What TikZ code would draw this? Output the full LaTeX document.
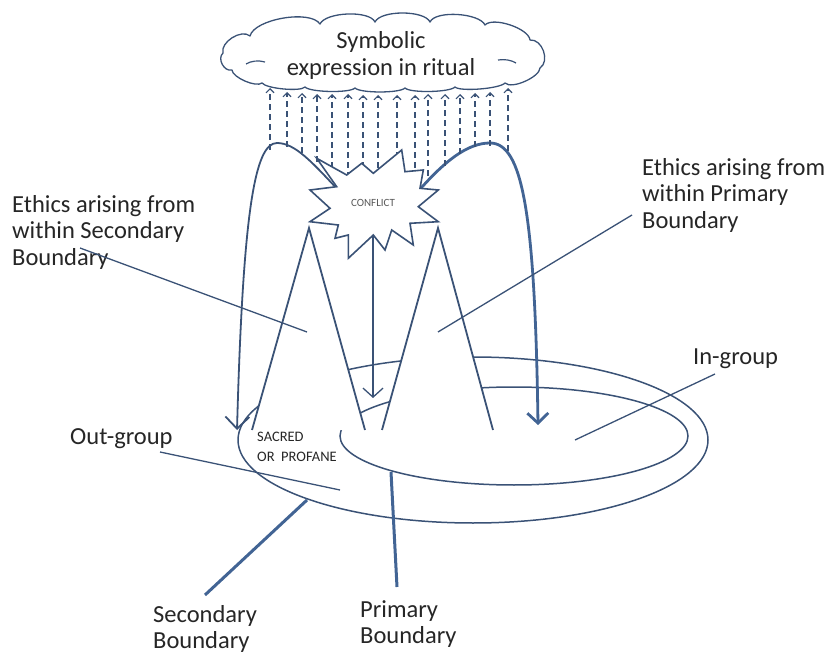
\documentclass[tikz,border=0pt]{standalone}
\usepackage{fontspec}
\setmainfont{Carlito}
\usetikzlibrary{arrows.meta}
\definecolor{ln}{RGB}{58,82,118}
\definecolor{lnb}{RGB}{66,100,148}
\definecolor{txt}{RGB}{38,38,38}
\begin{document}
\begin{tikzpicture}[x=1pt,y=-1pt,
  lbl/.style={font=\fontsize{24.5}{26.5}\selectfont, text=txt, inner sep=0pt, align=left, anchor=north west},
  thinln/.style={draw=ln, line width=1.3pt},
  thickln/.style={draw=lnb, line width=3pt},
  ell/.style={draw=ln, line width=1.5pt},
  leg/.style={draw=ln, line width=1.8pt, line join=miter},
  dsh/.style={draw=ln, line width=1.1pt, dash pattern=on 6pt off 4pt, -{Straight Barb[length=4pt,width=8pt]}},
  bigtip/.style={-{Straight Barb[length=12pt,width=24pt]}}
]
\useasboundingbox (0,0) rectangle (828,655);

% ellipses
\draw[ell] (473,440) ellipse [x radius=235pt, y radius=83pt];
\draw[ell] (514,436) ellipse [x radius=174pt, y radius=49pt];

% two Lambda shapes
\coordinate (a1) at (252,430); \coordinate (a2) at (309,228); \coordinate (a3) at (365,430);
\coordinate (b1) at (382,430); \coordinate (b2) at (438,228); \coordinate (b3) at (493,430);
\fill[white] (a1) -- (a2) -- (a3) -- cycle;
\fill[white] (b1) -- (b2) -- (b3) -- cycle;
\draw[leg] (a1) -- (a2) -- (a3);
\draw[leg] (b1) -- (b2) -- (b3);

% middle arrow from conflict
\coordinate (cf) at (373,215);
\coordinate (mid) at (373,398);
\draw[thinln, -{Straight Barb[length=9pt,width=20pt]}] (cf) -- (mid);

% big curved arrows
\coordinate (lc0) at (340,192); \coordinate (lc1) at (277,143); \coordinate (lc2) at (237,430);
\draw[leg, bigtip] (lc0) .. controls (312,162) and (295,143) .. (lc1) .. controls (255,143) and (243,210) .. (lc2);
\coordinate (rc0) at (415,195); \coordinate (rc1) at (490,143); \coordinate (rc2) at (538,425);
\draw[draw=lnb, line width=2.8pt, -{Straight Barb[length=10pt,width=21pt]}] (rc0) .. controls (445,160) and (468,143) .. (rc1) .. controls (522,143) and (535,210) .. (rc2);

% dashed arrows to the cloud
\foreach \xx/\yy/\tt in {270/150/88,287/147/92,302/153/93,317/162/94,332/178/94,348/178/94,363/178/95,378/178/95,397/178/95,415/178/95,428/176/94,445/166/94,460/154/94,475/147/93,490/146/92,508/151/88}{
  \draw[dsh] (\xx,\yy) -- (\xx,\tt);
}

% conflict star
\filldraw[fill=white, draw=ln, line width=1.6pt, line join=miter]
 (316.7,158.3) -- (346.7,175) -- (361.7,163.3) -- (373.3,173.3) -- (401.7,150) -- (405,171.7)
 -- (423.3,170) -- (420,188.3) -- (438.3,190) -- (418.3,206.7) -- (438.3,221.7) -- (410,223.3)
 -- (413.3,245) -- (391.7,230) -- (385,250) -- (373.3,235) -- (348.3,258.3) -- (348.3,235)
 -- (335,238.3) -- (338.3,225) -- (310,221.7) -- (330,208.3) -- (310,190) -- (336.7,186.7) -- cycle;
\node[font=\fontsize{11}{12}\selectfont, text=black!65, inner sep=0pt] (conflict) at (373,203) {CONFLICT};

% cloud
\filldraw[fill=white, draw=ln, line width=1.3pt, line join=round]
  (223,53) .. controls (220,42.2) and (241.6,28.6) .. (250,36)
  .. controls (254.3,19) and (310.3,9.4) .. (320,24)
  .. controls (325.5,12) and (369.5,10) .. (375,22)
  .. controls (380.5,10) and (424.5,10) .. (430,22)
  .. controls (435.5,10) and (479.5,13) .. (485,25)
  .. controls (492.9,16.4) and (528.9,28.4) .. (530,40)
  .. controls (542.3,38.8) and (550.3,61.2) .. (540,68)
  .. controls (539.8,76.9) and (511.8,89.7) .. (505,83)
  .. controls (500,88.7) and (460,91.9) .. (455,87)
  .. controls (450,92.4) and (410,93.2) .. (405,88)
  .. controls (400,93.3) and (360,93.3) .. (355,88)
  .. controls (350,93.2) and (310,92.4) .. (305,87)
  .. controls (300.7,91.9) and (266.3,88.7) .. (262,83)
  .. controls (256.3,87.8) and (232.3,77.4) .. (232,70)
  .. controls (224.1,72.1) and (216.9,58.5) .. (223,53) -- cycle;
\draw[draw=ln, line width=1.2pt] (246,64) .. controls (251,61) and (258,60) .. (265,62);
\draw[draw=ln, line width=1.2pt] (498,60) .. controls (505,59) and (511,60) .. (516,63);
\node[font=\fontsize{24.5}{27}\selectfont, text=txt, align=center, inner sep=0pt, anchor=north] (cloud) at (381,31) {Symbolic\\expression in ritual};

% labels
\node[lbl] (ethS) at (12,195) {Ethics arising from\\within Secondary\\Boundary};
\node[lbl] (ethP) at (642,158) {Ethics arising from\\within Primary\\Boundary};
\node[lbl] (ing) at (693,349) {In-group};
\node[lbl] (outg) at (70,428) {Out-group};
\node[lbl] (secb) at (153,605) {Secondary\\Boundary};
\node[lbl] (primb) at (360,600) {Primary\\Boundary};
\node[font=\fontsize{14.5}{20}\selectfont, text=txt, inner sep=0pt, align=left, anchor=north west] (sacred) at (257,432) {SACRED\\OR~~PROFANE};

% leader lines
\coordinate (ethSa) at (80,248);  \coordinate (ethSb) at (307,332);
\coordinate (ethPa) at (632,215); \coordinate (ethPb) at (438,332);
\coordinate (inga) at (715,374);  \coordinate (ingb) at (575,440);
\coordinate (outa) at (160,452);  \coordinate (outb) at (340,490);
\coordinate (seca) at (205,595);  \coordinate (secb2) at (307,500);
\coordinate (pria) at (397,587);  \coordinate (prib) at (391,472);
\draw[thinln] (ethSa) -- (ethSb);
\draw[thinln] (ethPa) -- (ethPb);
\draw[thinln] (inga) -- (ingb);
\draw[thinln] (outa) -- (outb);
\draw[thickln] (seca) -- (secb2);
\draw[thickln] (pria) -- (prib);
\end{tikzpicture}
\end{document}
